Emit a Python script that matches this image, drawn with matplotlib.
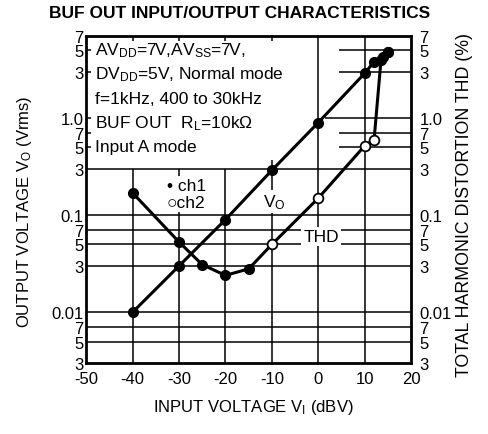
import matplotlib
matplotlib.use("Agg")
import matplotlib.pyplot as plt

plt.rcParams['font.family'] = ['Liberation Sans', 'DejaVu Sans']
plt.rcParams['mathtext.fontset'] = 'custom'
plt.rcParams['mathtext.rm'] = 'Liberation Sans'
plt.rcParams['mathtext.it'] = 'Liberation Sans:italic'
plt.rcParams['mathtext.bf'] = 'Liberation Sans:bold'

# output voltage Vo (Vrms) vs input level (dBV)
vo_x = [-40, -30, -20, -10, 0, 10, 12, 14, 15]
vo_y = [0.01, 0.03, 0.09, 0.29, 0.9, 2.9, 3.8, 4.3, 4.8]

# THD (%) vs input level, split by which channel's marker shows
thd_ch1_x = [-40, -30, -25, -20, -15, 13.5, 15]
thd_ch1_y = [0.17, 0.053, 0.031, 0.024, 0.028, 4.0, 4.8]
thd_ch2_x = [-10, 0, 10, 12]
thd_ch2_y = [0.05, 0.15, 0.52, 0.6]

x_ticks = [-50, -40, -30, -20, -10, 0, 10, 20]
y_ticks = [0.003, 0.005, 0.007, 0.01, 0.03, 0.05, 0.07, 0.1,
           0.3, 0.5, 0.7, 1.0, 3, 5, 7]
y_labels = ['3', '5', '7', '0.01', '3', '5', '7', '0.1',
            '3', '5', '7', '1.0', '3', '5', '7']

info_lines = [
    r'AV$_{\rm DD}$=7V,AV$_{\rm SS}$=7V,',
    r'DV$_{\rm DD}$=5V, Normal mode',
    'f=1kHz, 400 to 30kHz',
    r'BUF OUT  R$_{\rm L}$=10k$\Omega$',
    'Input A mode',
]

fs = 12.5
tick_fs = 12

fig = plt.figure(figsize=(4.89, 4.35), dpi=100)
ax = fig.add_axes([0.176, 0.163, 0.665, 0.752])
ax.set_yscale('log')
ax.set_xlim(-50, 20)
ax.set_ylim(0.003, 7)

# grid, drawn by hand because the note box hides part of it
grid_kw = dict(color='black', linewidth=1.1, zorder=1)
for lvl in y_ticks[1:-1]:
    if lvl == 1.0:
        start = 1.5
    elif lvl >= 0.5:
        start = 4.5
    else:
        start = -50
    ax.hlines(lvl, start, 20, **grid_kw)
    if start > -50:
        ax.hlines(lvl, -50, -49, **grid_kw)
for xv in x_ticks[1:-1]:
    if xv < 0:
        top = 0.37 if xv == -10 else 0.3
        ax.vlines(xv, 0.003, top, **grid_kw)
        ax.vlines(xv, 6.2, 7, **grid_kw)
    else:
        ax.vlines(xv, 0.003, 7, **grid_kw)

# curves
ax.plot(vo_x, vo_y, color='black', linewidth=2.2, marker='o',
        markersize=7, zorder=5)
thd_pts = sorted(zip(thd_ch1_x + thd_ch2_x, thd_ch1_y + thd_ch2_y))
ax.plot([p[0] for p in thd_pts], [p[1] for p in thd_pts],
        color='black', linewidth=2.2, zorder=5)
ax.plot(thd_ch1_x, thd_ch1_y, 'o', color='black', markersize=7, zorder=6)
ax.plot(thd_ch2_x, thd_ch2_y, 'o', markerfacecolor='white',
        markeredgecolor='black', markeredgewidth=1.3, markersize=7, zorder=6)

ax.set_xticks(x_ticks)
ax.set_xticklabels([str(v) for v in x_ticks])
ax.set_yticks(y_ticks)
ax.set_yticklabels(y_labels)
ax.yaxis.set_minor_locator(matplotlib.ticker.NullLocator())
ax.tick_params(axis='x', length=0, labelsize=tick_fs, pad=6)
ax.tick_params(axis='y', length=0, labelsize=tick_fs, pad=2)
for s in ax.spines.values():
    s.set_linewidth(2)

# right-hand THD scale (same decades as the left)
ax2 = ax.twinx()
ax2.set_yscale('log')
ax2.set_ylim(0.003, 7)
ax2.set_yticks(y_ticks)
ax2.set_yticklabels(y_labels)
ax2.yaxis.set_minor_locator(matplotlib.ticker.NullLocator())
ax2.tick_params(axis='y', length=0, labelsize=tick_fs, pad=6)
for s in ax2.spines.values():
    s.set_visible(False)

for i, line in enumerate(info_lines):
    ax.text(0.028, 0.945 - i * 0.0745, line, transform=ax.transAxes,
            fontsize=fs, va='baseline', ha='left', zorder=3)

white = dict(facecolor='white', edgecolor='none', pad=1.5)
ax.text(0.249, 0.517, '\u2022 ch1\n\u25cbch2', transform=ax.transAxes,
        fontsize=fs, va='center', ha='left', linespacing=1.1,
        bbox=white, zorder=3)
ax.text(0.545, 0.495, r'V$_{\rm O}$', transform=ax.transAxes, fontsize=fs,
        va='center', ha='left', bbox=white, zorder=3)
ax.text(0.668, 0.388, 'THD', transform=ax.transAxes, fontsize=fs,
        va='center', ha='left', bbox=white, zorder=3)

fig.text(0.489, 0.968, 'BUF OUT INPUT/OUTPUT CHARACTERISTICS',
         fontsize=12.5, fontweight='bold', ha='center', va='center')
fig.text(0.518, 0.064, r'INPUT VOLTAGE V$_{\rm I}$ (dBV)',
         fontsize=12, ha='center', va='center')
fig.text(0.051, 0.512, r'OUTPUT VOLTAGE V$_{\rm O}$ (Vrms)',
         fontsize=12, ha='center', va='center', rotation=90)
fig.text(0.95, 0.529, 'TOTAL HARMONIC DISTORTION THD (%)',
         fontsize=12.8, ha='center', va='center', rotation=90)

fig.savefig('out.png', dpi=100)
